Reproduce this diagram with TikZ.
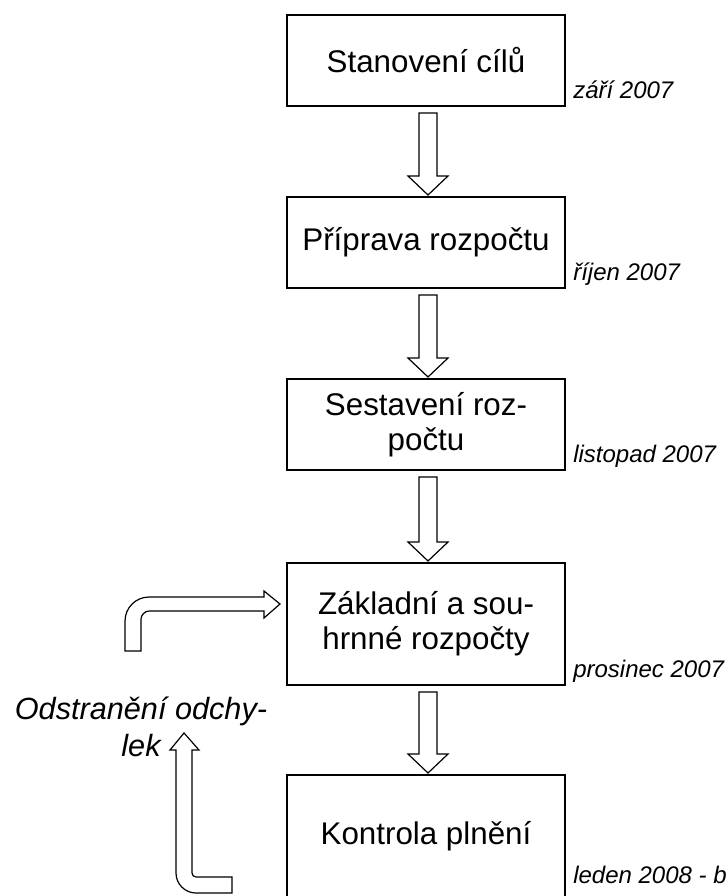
\documentclass[tikz,border=0pt]{standalone}
\usepackage{fontspec}
\setmainfont{Liberation Sans}
\usetikzlibrary{calc}
\tikzset{
  box/.style={draw, line width=1.5pt, minimum width=208.5pt, inner sep=0pt, align=center,
    font=\fontsize{23.5}{26}\selectfont},
  smallbox/.style={box, minimum height=68.25pt},
  bigbox/.style={box, minimum height=91.5pt},
  datelbl/.style={anchor=base west, inner sep=0pt, font=\fontsize{18}{20}\selectfont\itshape},
  blockarrow/.style={draw, line width=0.9pt, fill=white, line join=miter},
  sidelbl/.style={inner sep=0pt, align=center, font=\fontsize{23}{27.75}\selectfont\itshape},
}
\newcommand\blkdown[2]{%
  \draw[blockarrow] let \p1=($(#1.south)+(2,0)$), \p2=(#2.north) in
    (\x1-6.75pt,\y1-4.5pt) -- (\x1+6.75pt,\y1-4.5pt) -- (\x1+6.75pt,\y2+15pt)
    -- (\x1+15pt,\y2+15pt) -- (\x1,\y2+0.75pt) -- (\x1-15pt,\y2+15pt)
    -- (\x1-6.75pt,\y2+15pt) -- cycle;}
\begin{document}
\begin{tikzpicture}[x=0.75pt,y=-0.75pt]
\useasboundingbox (0,0) rectangle (726,896);
\clip (0,0) rectangle (726,896);

\node[smallbox] (b1) at (426,60.5) {Stanovení cílů};
\node[smallbox] (b2) at (426,242.5) {Příprava rozpočtu};
\node[smallbox] (b3) at (426,424.5) {Sestavení roz-\\počtu};
\node[bigbox] (b4) at (426,624) {Základní a sou-\\hrnné rozpočty};
\node[bigbox] (b5) at (426,836) {Kontrola plnění};

\node[datelbl] (d1) at ($(b1.south east)+(7,-9)$) {září 2007};
\node[datelbl] (d2) at ($(b2.south east)+(7,-9)$) {říjen 2007};
\node[datelbl] (d3) at ($(b3.south east)+(7,-9)$) {listopad 2007};
\node[datelbl] (d4) at ($(b4.south east)+(7,-9)$) {prosinec 2007};
\node[datelbl] (d5) at (573,883) {leden 2008 - b};

\blkdown{b1}{b2}
\blkdown{b2}{b3}
\blkdown{b3}{b4}
\blkdown{b4}{b5}

% feedback arrow into box 4
\coordinate (fbtip) at (280,604);
\draw[blockarrow] (125,651) -- (125,621) .. controls (125,607.8) and (135.8,597) .. (149,597)
  -- (264,597) -- (264,591) -- (fbtip) -- (264,618) -- (264,611) -- (149,611)
  .. controls (144.6,611) and (141,615.4) .. (141,619) -- (141,651) -- cycle;

% arrow up from box 5
\coordinate (uptip) at (184,733);
\draw[blockarrow] (232,893) -- (196,893) .. controls (185,893) and (176,884) .. (176,873)
  -- (176,750) -- (170,750) -- (uptip) -- (199,750) -- (192,750) -- (192,873)
  .. controls (192,875.2) and (193.8,877) .. (196,877) -- (232,877) -- cycle;

\node[sidelbl] (odch) at (141,727) {Odstranění odchy-\\lek};
\end{tikzpicture}
\end{document}
